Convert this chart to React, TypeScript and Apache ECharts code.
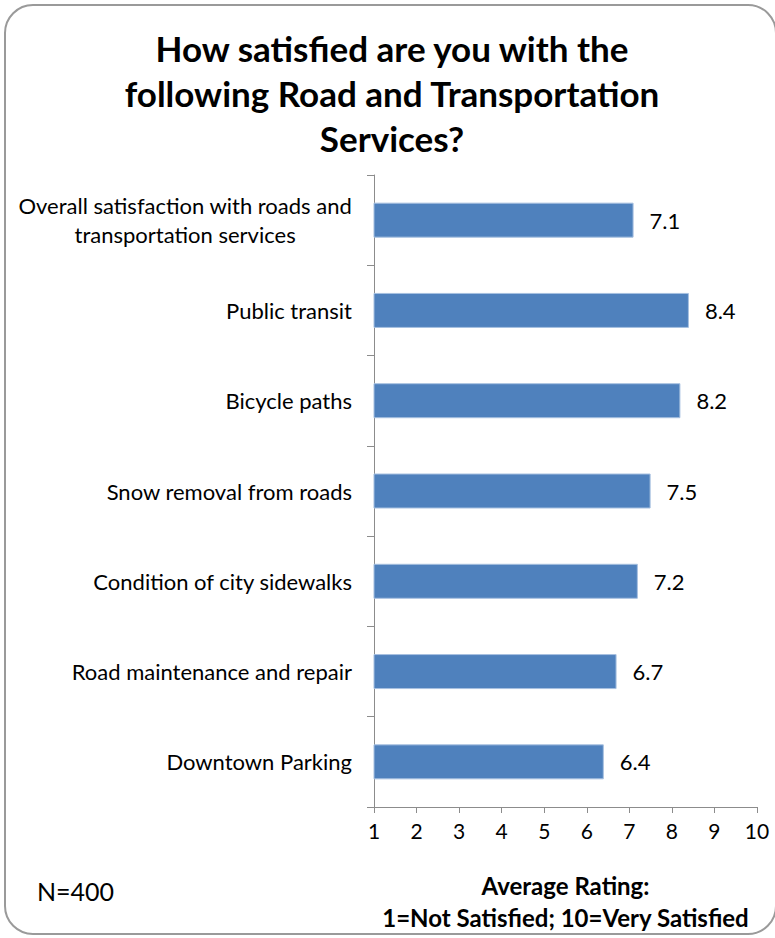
import React, { useEffect, useRef } from "react";
import * as echarts from "echarts";

const categories = [
  "Overall satisfaction with roads and\ntransportation services",
  "Public transit",
  "Bicycle paths",
  "Snow removal from roads",
  "Condition of city sidewalks",
  "Road maintenance and repair",
  "Downtown Parking",
];
const ratings = [7.1, 8.4, 8.2, 7.5, 7.2, 6.7, 6.4];
const titleLines = ["How satisfied are you with the", "following Road and Transportation", "Services?"];
const axisTitle = "Average Rating:\n1=Not Satisfied; 10=Very Satisfied";
const sampleNote = "N=400";

const FONT = "Lato, 'Liberation Sans', sans-serif";

export default function App() {
  const ref = useRef<HTMLDivElement>(null);
  useEffect(() => {
    if (!ref.current) return;
    const chart = echarts.init(ref.current, null, { renderer: "svg" });
    chart.setOption({
      animation: false,
      textStyle: { fontFamily: FONT },
      graphic: [
        {
          type: "rect",
          shape: { x: 5, y: 5, width: 771, height: 929, r: 28 },
          style: { fill: "#fff", stroke: "#9a9a9a", lineWidth: 2 },
          z: -10,
        },
        {
          type: "text",
          x: 392,
          y: 25,
          style: {
            text: titleLines.join("\n"),
            font: `bold 35px ${FONT}`,
            fill: "#000",
            align: "center",
            lineHeight: 45,
          },
        },
        {
          type: "text",
          x: 37,
          y: 878,
          style: { text: sampleNote, font: `25px ${FONT}`, fill: "#000" },
        },
      ],
      grid: { left: 374, right: 18, top: 175, bottom: 130, containLabel: false },
      xAxis: {
        type: "value",
        min: 1,
        max: 10,
        interval: 1,
        splitLine: { show: false },
        axisLine: { show: true, lineStyle: { color: "#8c8c8c", width: 1 } },
        axisTick: { show: true, length: 6, lineStyle: { color: "#8c8c8c" } },
        axisLabel: { fontSize: 21, color: "#000", margin: 13, fontFamily: FONT },
        name: axisTitle,
        nameLocation: "middle",
        nameGap: 62,
        nameTextStyle: { fontSize: 24, fontWeight: "bold", color: "#000", lineHeight: 32, fontFamily: FONT },
      },
      yAxis: {
        type: "category",
        data: categories,
        inverse: true,
        axisLine: { show: true, lineStyle: { color: "#8c8c8c", width: 1 } },
        axisTick: { show: true, length: 7, lineStyle: { color: "#8c8c8c" } },
        axisLabel: {
          fontSize: 22,
          color: "#000",
          margin: 22,
          fontFamily: FONT,
          lineHeight: 29,
          formatter: (v: string) =>
            v.indexOf("\n") >= 0
              ? v.split("\n").map((l) => `{c|${l}}`).join("\n")
              : v,
          rich: { c: { align: "center", fontSize: 22, fontFamily: FONT, color: "#000", lineHeight: 29 } },
        },
      },
      series: [
        {
          type: "bar",
          data: ratings,
          barWidth: 35,
          itemStyle: { color: "#4f81bd", borderColor: "#a7c0e0", borderWidth: 1 },
          label: {
            show: true,
            position: "right",
            distance: 16,
            fontSize: 22,
            color: "#000",
            fontFamily: FONT,
            formatter: (p: any) => p.value.toFixed(1),
          },
        },
      ],
    });
    return () => chart.dispose();
  }, []);
  return <div ref={ref} style={{ position: "absolute", left: 0, top: 0, width: 775, height: 938 }} />;
}
